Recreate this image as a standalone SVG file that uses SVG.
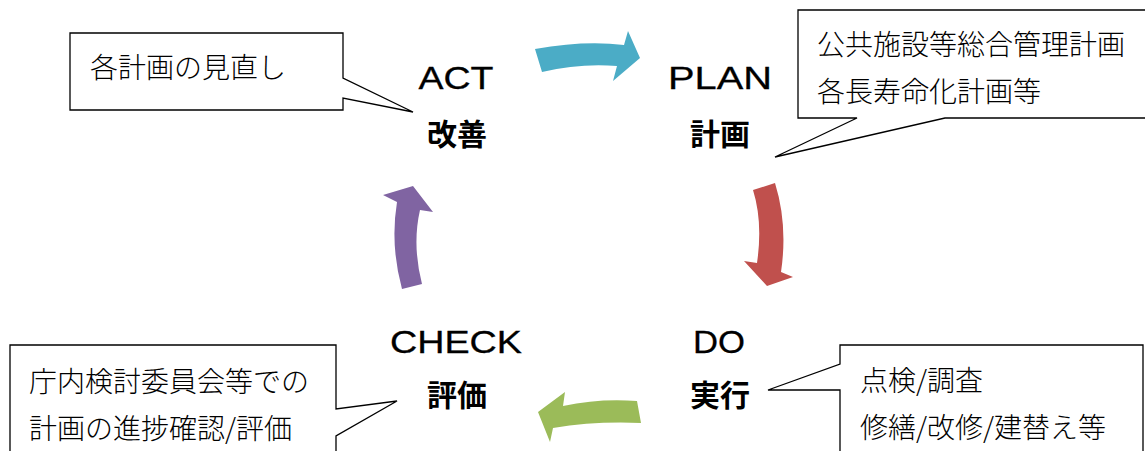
<svg xmlns="http://www.w3.org/2000/svg" width="1145" height="451" viewBox="0 0 1145 451">
<style>
.callout{fill:#fff;stroke:#000;stroke-width:1.3;stroke-linejoin:miter}
.note{font-family:"Noto Sans CJK JP",sans-serif;font-size:28px;font-weight:300;fill:#000}
.en{font-family:"Liberation Sans",Arial,sans-serif;font-size:32px;fill:#000;stroke:#000;stroke-width:0.3;text-anchor:middle}
.jp{font-family:"Noto Sans CJK JP",sans-serif;font-size:30px;font-weight:bold;fill:#000;text-anchor:middle}
</style>
<rect width="1145" height="451" fill="#fff"/>
<g id="connectors">
  <path id="arrow-plan" d="M535,49 Q585,40 624,45 L628,31 L640,58 L613,81 L617,66 Q580,63 542,72 Z" fill="#4BACC6"/>
  <path id="arrow-do" d="M753,190 L775,183 Q788,225 781,272 L793,277 L767,286 L744,261 L757,263 Q763,222 753,190 Z" fill="#C0504D"/>
  <path id="arrow-check" d="M637,401 L641,423 Q595,421 553,428 L550,442 L538,412 L565,392 L563,406 Q600,398 637,401 Z" fill="#9BBB59"/>
  <path id="arrow-act" d="M402,289 L422,284 Q412,245 420,210 L433,212 L413,186 L383,195 L397,202 Q390,245 402,289 Z" fill="#8064A2"/>
</g>
<g id="act">
  <text class="en" x="456" y="89" textLength="75" lengthAdjust="spacingAndGlyphs">ACT</text>
  <text class="jp" x="457" y="145">改善</text>
</g>
<g id="plan">
  <text class="en" x="720" y="89" textLength="104" lengthAdjust="spacingAndGlyphs">PLAN</text>
  <text class="jp" x="720" y="145">計画</text>
</g>
<g id="do">
  <text class="en" x="719" y="353" textLength="52" lengthAdjust="spacingAndGlyphs">DO</text>
  <text class="jp" x="720" y="406">実行</text>
</g>
<g id="check">
  <text class="en" x="456" y="353" textLength="132" lengthAdjust="spacingAndGlyphs">CHECK</text>
  <text class="jp" x="457" y="406">評価</text>
</g>
<g id="note-act">
  <path class="callout" d="M70,33 H343 V78 L413,112 L343,98 V110 H70 Z"/>
  <text class="note" x="90" y="78">各計画の見直し</text>
</g>
<g id="note-plan">
  <path class="callout" d="M798,10 H1150 V118 H945 L775,157 L857,118 H798 Z"/>
  <text class="note" x="817" y="55">公共施設等総合管理計画</text>
  <text class="note" x="817" y="102">各長寿命化計画等</text>
</g>
<g id="note-do">
  <path class="callout" d="M840,345 H1143 V460 H840 V390 H768 L840,364 Z"/>
  <text class="note" x="860" y="391">点検/調査</text>
  <text class="note" x="860" y="438">修繕/改修/建替え等</text>
</g>
<g id="note-check">
  <path class="callout" d="M10,345 H336 V409 L397,401 L336,436 V460 H10 Z"/>
  <text class="note" x="29" y="392">庁内検討委員会等での</text>
  <text class="note" x="29" y="439">計画の進捗確認/評価</text>
</g>
</svg>
